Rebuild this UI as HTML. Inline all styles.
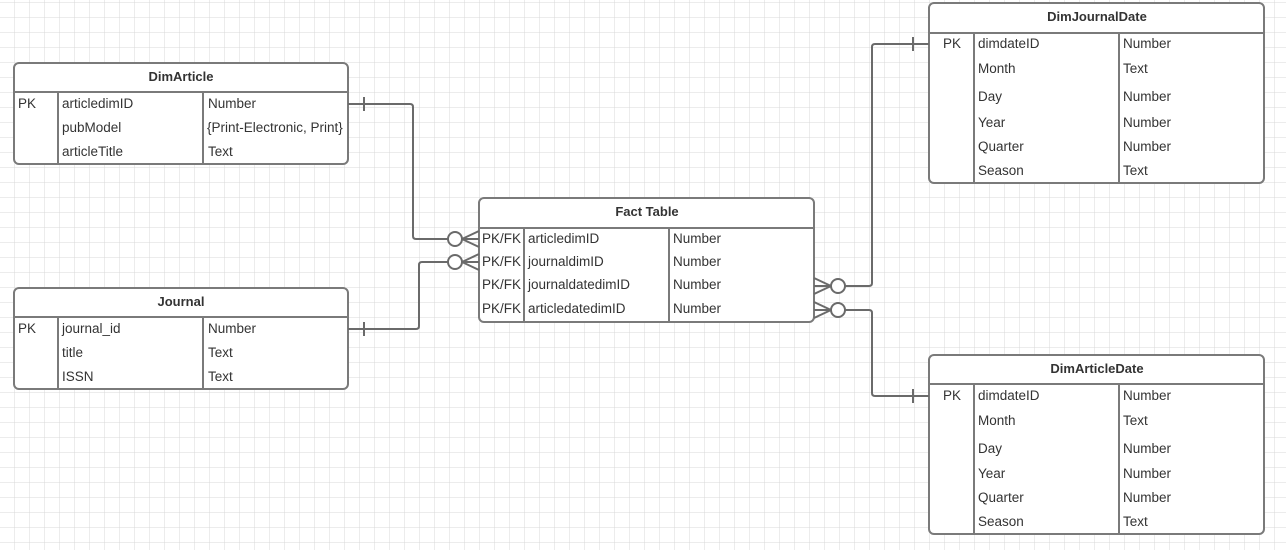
<!DOCTYPE html>
<html><head><meta charset="utf-8"><style>
html,body{margin:0;padding:0;background:#fff;}
svg{display:block;}
text{font-family:"Liberation Sans",sans-serif;font-size:13.5px;fill:#333;}
.h{font-weight:bold;text-anchor:middle;fill:#333;font-size:13px;}
</style></head><body>
<svg width="1286" height="550" xmlns="http://www.w3.org/2000/svg">
<defs>
<pattern id="g" x="14.5" y="2.5" width="15" height="15" patternUnits="userSpaceOnUse">
<path d="M0 0H15M0 0V15" stroke="#d9d9d9" stroke-width="1" fill="none"/>
</pattern>
</defs>
<rect width="1286" height="550" fill="url(#g)"/>
<g fill="#fff" stroke="#7a7a7a" stroke-width="2">
<rect x="14" y="63" width="334" height="101" rx="5"/>
<path d="M14 92H348M58 92V164M203 92V164"/>
<rect x="14" y="288" width="334" height="101" rx="5"/>
<path d="M14 317H348M58 317V389M203 317V389"/>
<rect x="479" y="198" width="335" height="124" rx="5"/>
<path d="M479 228H814M524 228V322M669 228V322"/>
<rect x="929" y="3" width="335" height="180" rx="5"/>
<path d="M929 33H1264M974 33V183M1119 33V183"/>
<rect x="929" y="355" width="335" height="179" rx="5"/>
<path d="M929 384H1264M974 384V534M1119 384V534"/>
</g>
<g fill="none" stroke="#6a6a6a" stroke-width="2">
<path d="M348 104H410Q413 104 413 107V236Q413 239 416 239H448"/>
<path d="M364 97V111"/>
<circle cx="455" cy="239" r="7" fill="#fff"/>
<path d="M462 239L479 231M462 239H479M462 239L479 247"/>
<path d="M348 329H416Q419 329 419 326V265Q419 262 422 262H448"/>
<path d="M364 322V336"/>
<circle cx="455" cy="262" r="7" fill="#fff"/>
<path d="M462 262L479 254M462 262H479M462 262L479 270"/>
<path d="M845 286H869Q872 286 872 283V47Q872 44 875 44H929"/>
<path d="M913 37V51"/>
<circle cx="838" cy="286" r="7" fill="#fff"/>
<path d="M831 286L814 278M831 286H814M831 286L814 294"/>
<path d="M845 310H869Q872 310 872 313V393Q872 396 875 396H929"/>
<path d="M913 389V403"/>
<circle cx="838" cy="310" r="7" fill="#fff"/>
<path d="M831 310L814 302M831 310H814M831 310L814 318"/>
</g>
<text class="h" x="181" y="81">DimArticle</text>
<text x="18" y="108">PK</text><text x="62" y="108">articledimID</text><text x="208" y="108">Number</text>
<text x="62" y="132">pubModel</text><text x="207" y="132">{Print-Electronic, Print}</text>
<text x="62" y="156">articleTitle</text><text x="208" y="156">Text</text>
<text class="h" x="181" y="306">Journal</text>
<text x="18" y="333">PK</text><text x="62" y="333">journal_id</text><text x="208" y="333">Number</text>
<text x="62" y="357">title</text><text x="208" y="357">Text</text>
<text x="62" y="381">ISSN</text><text x="208" y="381">Text</text>
<text class="h" x="647" y="216">Fact Table</text>
<text x="482" y="243">PK/FK</text><text x="528" y="243">articledimID</text><text x="673" y="243">Number</text>
<text x="482" y="266">PK/FK</text><text x="528" y="266">journaldimID</text><text x="673" y="266">Number</text>
<text x="482" y="289">PK/FK</text><text x="528" y="289">journaldatedimID</text><text x="673" y="289">Number</text>
<text x="482" y="313">PK/FK</text><text x="528" y="313">articledatedimID</text><text x="673" y="313">Number</text>
<text class="h" x="1097" y="21">DimJournalDate</text>
<text x="943" y="48">PK</text><text x="978" y="48">dimdateID</text><text x="1123" y="48">Number</text>
<text x="978" y="73">Month</text><text x="1123" y="73">Text</text>
<text x="978" y="101">Day</text><text x="1123" y="101">Number</text>
<text x="978" y="127">Year</text><text x="1123" y="127">Number</text>
<text x="978" y="151">Quarter</text><text x="1123" y="151">Number</text>
<text x="978" y="175">Season</text><text x="1123" y="175">Text</text>
<text class="h" x="1097" y="373">DimArticleDate</text>
<text x="943" y="400">PK</text><text x="978" y="400">dimdateID</text><text x="1123" y="400">Number</text>
<text x="978" y="425">Month</text><text x="1123" y="425">Text</text>
<text x="978" y="453">Day</text><text x="1123" y="453">Number</text>
<text x="978" y="478">Year</text><text x="1123" y="478">Number</text>
<text x="978" y="502">Quarter</text><text x="1123" y="502">Number</text>
<text x="978" y="526">Season</text><text x="1123" y="526">Text</text>
</svg>
</body></html>
